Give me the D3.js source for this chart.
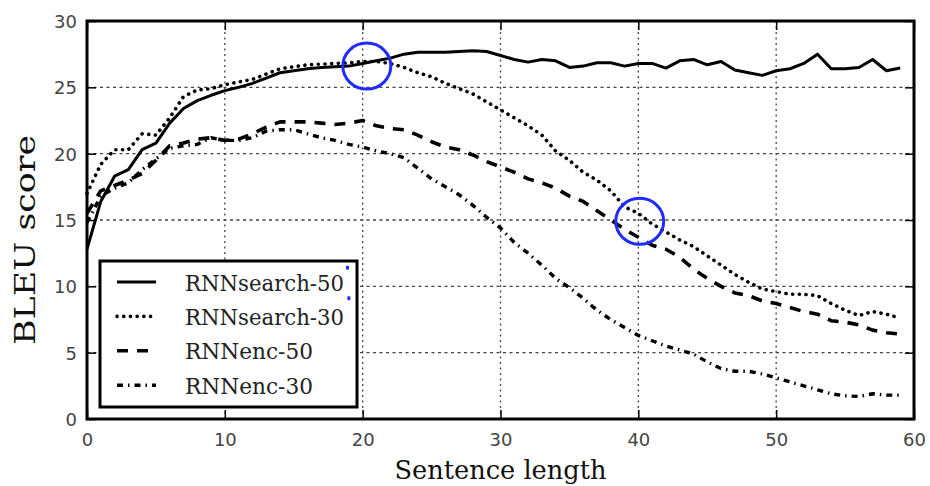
<!DOCTYPE html>
<html>
<head>
<meta charset="utf-8">
<script src="https://cdn.jsdelivr.net/npm/d3@7"></script>
<style>
  html, body { margin: 0; padding: 0; background: #fff; }
  svg { display: block; }
</style>
</head>
<body>
<svg id="chart" width="930" height="486"></svg>
<script>
// ---------------- data ----------------
const sentenceLength = d3.range(0, 60);

const rnnSearch50 = [12.8, 16.4, 18.3, 18.8, 20.3, 20.8, 22.3, 23.4, 24.0, 24.4,
  24.75, 25.0, 25.3, 25.7, 26.1, 26.25, 26.4, 26.5, 26.55, 26.6,
  26.8, 27.0, 27.2, 27.5, 27.65, 27.65, 27.65, 27.7, 27.75, 27.7,
  27.4, 27.1, 26.9, 27.1, 27.0, 26.5, 26.6, 26.85, 26.85, 26.6,
  26.8, 26.8, 26.45, 27.0, 27.1, 26.7, 26.95, 26.3, 26.1, 25.9,
  26.25, 26.4, 26.8, 27.5, 26.4, 26.4, 26.5, 27.1, 26.25, 26.45];

const rnnSearch30 = [17.0, 19.2, 20.3, 20.3, 21.5, 21.4, 22.7, 24.3, 24.8, 24.9,
  25.2, 25.4, 25.6, 26.0, 26.4, 26.55, 26.7, 26.75, 26.8, 26.85,
  26.95, 26.95, 26.8, 26.5, 26.1, 25.8, 25.3, 24.9, 24.5, 23.9,
  23.3, 22.7, 22.1, 21.4, 20.2, 19.5, 18.6, 18.0, 17.2, 16.0,
  15.5, 14.7, 14.1, 13.5, 13.0, 12.3, 11.6, 10.9, 10.3, 9.8,
  9.6, 9.4, 9.4, 9.3, 8.7, 8.2, 7.8, 8.1, 7.9, 7.6];

const rnnEnc50 = [15.5, 17.2, 17.6, 18.0, 18.5, 19.5, 20.6, 20.8, 21.1, 21.2,
  21.0, 21.1, 21.5, 22.0, 22.4, 22.4, 22.4, 22.3, 22.2, 22.3,
  22.5, 22.1, 21.9, 21.8, 21.4, 20.9, 20.5, 20.3, 19.9, 19.4,
  19.0, 18.6, 18.1, 17.8, 17.4, 16.8, 16.4, 15.7, 15.0, 14.3,
  13.7, 13.1, 12.8, 12.2, 11.3, 10.6, 10.0, 9.5, 9.3, 8.9,
  8.7, 8.4, 8.1, 7.9, 7.4, 7.3, 7.1, 6.7, 6.5, 6.4];

const rnnEnc30 = [14.8, 16.8, 17.4, 17.8, 18.8, 19.6, 20.4, 20.6, 20.7, 21.2,
  21.0, 21.0, 21.2, 21.7, 21.8, 21.8, 21.5, 21.2, 21.0, 20.7,
  20.5, 20.2, 20.0, 19.7, 18.9, 18.1, 17.5, 16.9, 16.1, 15.2,
  14.4, 13.3, 12.5, 11.6, 10.6, 9.9, 9.1, 8.2, 7.5, 6.9,
  6.3, 5.9, 5.5, 5.2, 4.9, 4.3, 3.8, 3.6, 3.6, 3.4,
  3.1, 2.8, 2.5, 2.2, 1.9, 1.75, 1.7, 1.9, 1.8, 1.8];

const seriesNames = ["RNNsearch-50", "RNNsearch-30", "RNNenc-50", "RNNenc-30"];
const seriesValues = [rnnSearch50, rnnSearch30, rnnEnc50, rnnEnc30];

const xTicks = [0, 10, 20, 30, 40, 50, 60];
const yTicks = [0, 5, 10, 15, 20, 25, 30];

const xTitle = "Sentence length";
const yTitle = "BLEU score";

// hand-drawn annotations (data units)
const annotationCircles = [{x: 20.3, y: 26.6}, {x: 40.1, y: 14.9}];
const annotationMarks = [{x: 18.9, y: 11.4}, {x: 19.0, y: 9.1}];

// ---------------- layout ----------------
const svg = d3.select("#chart");
const L = 87, R = 914, T = 21, B = 419;

const x = d3.scaleLinear().domain([0, 60]).range([L, R]);
const y = d3.scaleLinear().domain([0, 30]).range([B, T]);

const styles = [
  {dash: null, cap: "butt", width: 3},
  {dash: "0.1,6.6", cap: "round", width: 3.6},
  {dash: "11,9", cap: "butt", width: 3.6},
  {dash: "6,5,1.5,5", cap: "butt", width: 3.4}
];

// grid
const gridG = svg.append("g");
gridG.selectAll("line.v").data(xTicks.filter(d => d > 0 && d < 60)).join("line")
  .attr("x1", d => x(d)).attr("x2", d => x(d))
  .attr("y1", T).attr("y2", B)
  .attr("stroke", "#444").attr("stroke-width", 1.3)
  .attr("stroke-dasharray", "2,3.5");
gridG.selectAll("line.h").data(yTicks.filter(d => d > 0 && d < 30)).join("line")
  .attr("x1", L).attr("x2", R)
  .attr("y1", d => y(d)).attr("y2", d => y(d))
  .attr("stroke", "#444").attr("stroke-width", 1.3)
  .attr("stroke-dasharray", "3,3.5");

// axes (inward ticks, on all sides)
const tickLen = 9;
const axB = svg.append("g").attr("transform", `translate(0,${B})`)
  .call(d3.axisBottom(x).tickValues(xTicks).tickSizeInner(-tickLen).tickSizeOuter(0).tickPadding(14));
const axT = svg.append("g").attr("transform", `translate(0,${T})`)
  .call(d3.axisTop(x).tickValues(xTicks).tickSizeInner(-tickLen).tickSizeOuter(0).tickFormat(""));
const axL = svg.append("g").attr("transform", `translate(${L},0)`)
  .call(d3.axisLeft(y).tickValues(yTicks).tickSizeInner(-tickLen).tickSizeOuter(0).tickPadding(10));
const axR = svg.append("g").attr("transform", `translate(${R},0)`)
  .call(d3.axisRight(y).tickValues(yTicks).tickSizeInner(-tickLen).tickSizeOuter(0).tickFormat(""));

[axB, axT, axL, axR].forEach(a => {
  a.select(".domain").remove();
  a.selectAll(".tick line").attr("stroke", "#000").attr("stroke-width", 1.5);
  a.selectAll(".tick text").attr("font-family", "DejaVu Sans").attr("font-size", 18).attr("fill", "#444");
});
axB.selectAll(".tick text").attr("dy", "0.71em");
axL.selectAll(".tick text").attr("dy", "0.36em");

// series
const line = d3.line().x((d, i) => x(sentenceLength[i])).y(d => y(d));
const seriesG = svg.append("g");
seriesValues.forEach((vals, k) => {
  seriesG.append("path")
    .datum(vals)
    .attr("d", line)
    .attr("fill", "none")
    .attr("stroke", "#000")
    .attr("stroke-width", styles[k].width)
    .attr("stroke-linecap", styles[k].cap)
    .attr("stroke-linejoin", "round")
    .attr("stroke-dasharray", styles[k].dash);
});

// frame
svg.append("rect").attr("x", L).attr("y", T).attr("width", R - L).attr("height", B - T)
  .attr("fill", "none").attr("stroke", "#000").attr("stroke-width", 3);

// legend
const lg = svg.append("g");
lg.append("rect").attr("x", 100).attr("y", 261).attr("width", 257).attr("height", 146)
  .attr("fill", "#fff").attr("stroke", "#000").attr("stroke-width", 3);
const legendWidths = [159, 159, 128, 128];
seriesNames.forEach((name, k) => {
  const cy = 282 + k * 34.4;
  lg.append("line").attr("x1", 117).attr("x2", 156).attr("y1", cy).attr("y2", cy)
    .attr("stroke", "#000").attr("stroke-width", styles[k].width)
    .attr("stroke-linecap", styles[k].cap)
    .attr("stroke-dasharray", styles[k].dash);
  lg.append("text").attr("x", 185).attr("y", cy + 8.5)
    .attr("font-family", "DejaVu Serif").attr("font-size", 22).attr("fill", "#222")
    .attr("textLength", legendWidths[k]).attr("lengthAdjust", "spacingAndGlyphs")
    .text(name);
});

// axis titles
svg.append("text").attr("x", (L + R) / 2).attr("y", 479)
  .attr("text-anchor", "middle")
  .attr("font-family", "DejaVu Serif").attr("font-size", 26).attr("fill", "#111")
  .attr("textLength", 212).attr("lengthAdjust", "spacingAndGlyphs")
  .text(xTitle);
svg.append("text").attr("transform", `translate(35,${240}) rotate(-90)`)
  .attr("text-anchor", "middle")
  .attr("font-family", "DejaVu Serif").attr("font-size", 28).attr("fill", "#111")
  .attr("textLength", 210).attr("lengthAdjust", "spacingAndGlyphs")
  .text(yTitle);

// hand-drawn blue annotations
const blue = "#1f2bff";
svg.append("g").selectAll("ellipse").data(annotationCircles).join("ellipse")
  .attr("cx", d => x(d.x)).attr("cy", d => y(d.y))
  .attr("rx", 24).attr("ry", 23)
  .attr("fill", "none").attr("stroke", blue).attr("stroke-width", 3);
svg.append("g").selectAll("rect").data(annotationMarks).join("rect")
  .attr("x", d => x(d.x) - 1.5).attr("y", d => y(d.y) - 2)
  .attr("width", 3).attr("height", 4).attr("rx", 1)
  .attr("fill", blue);
</script>
</body>
</html>
